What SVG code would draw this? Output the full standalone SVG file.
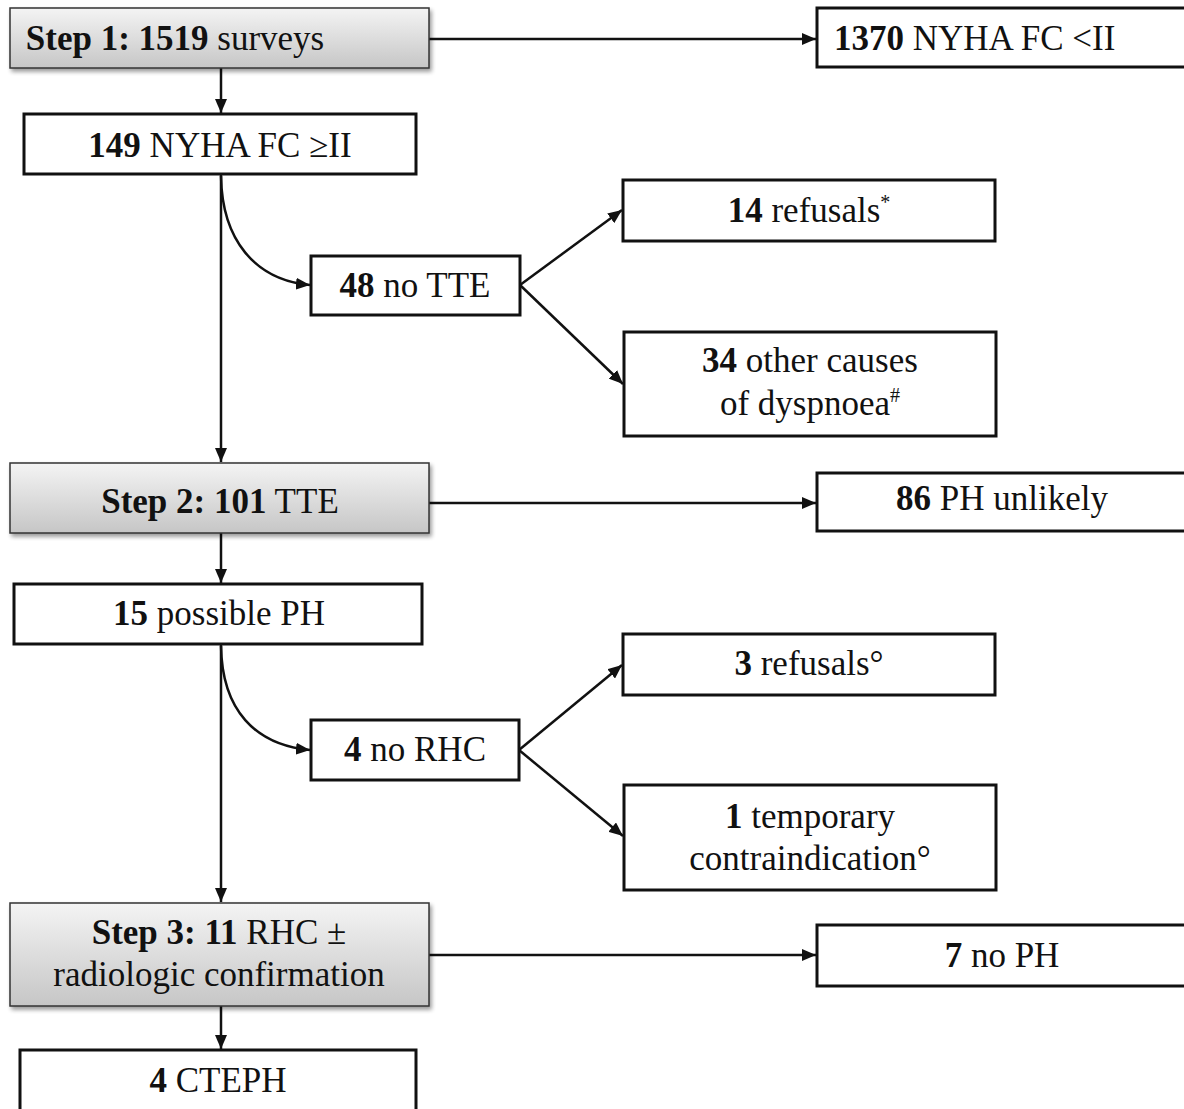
<svg xmlns="http://www.w3.org/2000/svg" width="1184" height="1109" viewBox="0 0 1184 1109">
<style>
text{font-family:"Liberation Serif","Times New Roman",serif;font-size:35px;fill:#111;text-anchor:middle}
.b{font-weight:bold}
.box{fill:#fff;stroke:#111;stroke-width:3}
.step{fill:url(#g);stroke:#333;stroke-width:1.5;filter:url(#sh)}
.c{fill:none;stroke:#111;stroke-width:2.5}
.sup{font-size:20px}
</style>
<defs>
<linearGradient id="g" x1="0" y1="0" x2="0" y2="1">
<stop offset="0" stop-color="#f4f4f4"/>
<stop offset="1" stop-color="#c6c6c6"/>
</linearGradient>
<filter id="sh" x="-5%" y="-10%" width="112%" height="130%">
<feGaussianBlur in="SourceAlpha" stdDeviation="2"/>
<feOffset dx="2" dy="3" result="o"/>
<feComponentTransfer><feFuncA type="linear" slope="0.4"/></feComponentTransfer>
<feMerge><feMergeNode/><feMergeNode in="SourceGraphic"/></feMerge>
</filter>
<marker id="a" viewBox="0 0 14 12" refX="14" refY="6" markerWidth="14" markerHeight="12" markerUnits="userSpaceOnUse" orient="auto">
<path d="M0,0 L14,6 L0,12 z" fill="#111"/>
</marker>
</defs>

<g id="connectors">
<path class="c" d="M429,39 H816" marker-end="url(#a)"/>
<path class="c" d="M221,68 V113" marker-end="url(#a)"/>
<path class="c" d="M221,174 V462" marker-end="url(#a)"/>
<path class="c" d="M221,176 C222,240 255,280 310,285" marker-end="url(#a)"/>
<path class="c" d="M520,285 L622,210" marker-end="url(#a)"/>
<path class="c" d="M520,285 L623,384" marker-end="url(#a)"/>
<path class="c" d="M429,503 H816" marker-end="url(#a)"/>
<path class="c" d="M221,533 V583" marker-end="url(#a)"/>
<path class="c" d="M221,644 V902" marker-end="url(#a)"/>
<path class="c" d="M221,646 C222,710 255,745 310,750" marker-end="url(#a)"/>
<path class="c" d="M519,750 L622,665" marker-end="url(#a)"/>
<path class="c" d="M519,750 L623,836" marker-end="url(#a)"/>
<path class="c" d="M429,955 H816" marker-end="url(#a)"/>
<path class="c" d="M221,1006 V1049" marker-end="url(#a)"/>
</g>

<g id="step1">
<rect class="step" x="10" y="8" width="419" height="60"/>
<text x="175" y="50"><tspan class="b">Step 1: 1519</tspan> surveys</text>
</g>
<g id="n1370">
<rect class="box" x="817" y="8" width="380" height="59"/>
<text x="834" y="50" style="text-anchor:start"><tspan class="b">1370</tspan> NYHA FC &lt;II</text>
</g>
<g id="n149">
<rect class="box" x="24" y="114" width="392" height="60"/>
<text x="220" y="157"><tspan class="b">149</tspan> NYHA FC ≥II</text>
</g>
<g id="n48">
<rect class="box" x="311" y="256" width="209" height="59"/>
<text x="415" y="297"><tspan class="b">48</tspan> no TTE</text>
</g>
<g id="n14">
<rect class="box" x="623" y="180" width="372" height="61"/>
<text x="809" y="222"><tspan class="b">14</tspan> refusals<tspan class="sup" dy="-13">*</tspan></text>
</g>
<g id="n34">
<rect class="box" x="624" y="332" width="372" height="104"/>
<text x="810" y="372"><tspan class="b">34</tspan> other causes</text>
<text x="810" y="415">of dyspnoea<tspan class="sup" dy="-13">#</tspan></text>
</g>
<g id="step2">
<rect class="step" x="10" y="463" width="419" height="70"/>
<text x="220" y="513"><tspan class="b">Step 2: 101</tspan> TTE</text>
</g>
<g id="n86">
<rect class="box" x="817" y="473" width="380" height="58"/>
<text x="1002" y="510"><tspan class="b">86</tspan> PH unlikely</text>
</g>
<g id="n15">
<rect class="box" x="14" y="584" width="408" height="60"/>
<text x="219" y="625"><tspan class="b">15</tspan> possible PH</text>
</g>
<g id="n4rhc">
<rect class="box" x="311" y="720" width="208" height="60"/>
<text x="415" y="761"><tspan class="b">4</tspan> no RHC</text>
</g>
<g id="n3">
<rect class="box" x="623" y="634" width="372" height="61"/>
<text x="809" y="675"><tspan class="b">3</tspan> refusals°</text>
</g>
<g id="n1">
<rect class="box" x="624" y="785" width="372" height="105"/>
<text x="810" y="828"><tspan class="b">1</tspan> temporary</text>
<text x="810" y="870">contraindication°</text>
</g>
<g id="step3">
<rect class="step" x="10" y="903" width="419" height="103"/>
<text x="219" y="944"><tspan class="b">Step 3: 11</tspan> RHC ±</text>
<text x="219" y="986">radiologic confirmation</text>
</g>
<g id="n7">
<rect class="box" x="817" y="925" width="380" height="61"/>
<text x="1002" y="967"><tspan class="b">7</tspan> no PH</text>
</g>
<g id="n4cteph">
<rect class="box" x="20" y="1050" width="396" height="80"/>
<text x="218" y="1092"><tspan class="b">4</tspan> CTEPH</text>
</g>
</svg>
